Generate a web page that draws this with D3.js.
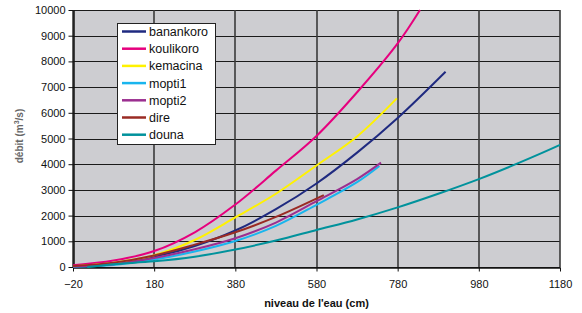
<!DOCTYPE html>
<html lang="fr">
<head>
<meta charset="UTF-8">
<title>débit / niveau</title>
<style>
    body { margin: 0; background: #fff; font-family: 'Liberation Sans', Arial, sans-serif; }
    svg { display: block; }
</style>
</head>
<body>
<svg width="582" height="313"></svg>
<script src="https://cdn.jsdelivr.net/npm/d3@7"></script>
<script>
// stations (legend order)
const stations = ['banankoro', 'koulikoro', 'kemacina', 'mopti1', 'mopti2', 'dire', 'douna'];
const colors = ['#1f2a80', '#e6007e', '#fff200', '#19b5ee', '#9b2f90', '#9a2b24', '#00929c'];

// niveau (cm) / débit (m3/s)
const banankoroX = [-20, 80, 180, 280, 380, 480, 580, 680, 780, 898];
const banankoroY = [20, 120, 400, 820, 1420, 2250, 3250, 4450, 5800, 7600];
const koulikoroX = [-20, 80, 180, 280, 380, 480, 580, 680, 780, 835];
const koulikoroY = [70, 250, 620, 1350, 2430, 3750, 5100, 6800, 8700, 10000];
const kemacinaX = [-20, 80, 180, 280, 380, 480, 580, 680, 778];
const kemacinaY = [30, 170, 460, 1050, 1930, 2850, 3950, 5080, 6560];
const mopti1X = [-20, 80, 180, 280, 380, 480, 580, 680, 735];
const mopti1Y = [10, 80, 290, 600, 1010, 1600, 2420, 3300, 3930];
const mopti2X = [-20, 80, 180, 280, 380, 480, 580, 680, 739];
const mopti2Y = [20, 110, 350, 690, 1120, 1730, 2560, 3420, 4060];
const direX = [-20, 80, 180, 280, 380, 480, 598];
const direY = [40, 170, 450, 870, 1350, 1950, 2800];
const dounaX = [15, 80, 180, 280, 380, 480, 580, 680, 780, 880, 980, 1080, 1180];
const dounaY = [0, 110, 220, 400, 680, 1030, 1440, 1850, 2320, 2850, 3420, 4060, 4750];

const xTicks = [-20, 180, 380, 580, 780, 980, 1180];
const yTicks = [0, 1000, 2000, 3000, 4000, 5000, 6000, 7000, 8000, 9000, 10000];

const seriesX = [banankoroX, koulikoroX, kemacinaX, mopti1X, mopti2X, direX, dounaX];
const seriesY = [banankoroY, koulikoroY, kemacinaY, mopti1Y, mopti2Y, direY, dounaY];

const margin = { left: 73, right: 22, top: 10, bottom: 46 };
const width = 582, height = 313;

const svg = d3.select('svg');

const x = d3.scaleLinear().domain([-20, 1180]).range([margin.left, width - margin.right]);
const y = d3.scaleLinear().domain([0, 10000]).range([height - margin.bottom, margin.top]);

// plot background
svg.append('rect')
    .attr('x', x(-20)).attr('y', y(10000))
    .attr('width', x(1180) - x(-20)).attr('height', y(0) - y(10000))
    .attr('fill', '#cdcdd1');

// gridlines
svg.append('g').selectAll('line').data(yTicks).join('line')
    .attr('x1', x(-20)).attr('x2', x(1180))
    .attr('y1', d => Math.round(y(d)) + 0.5).attr('y2', d => Math.round(y(d)) + 0.5)
    .attr('stroke', '#1a1a1a').attr('stroke-width', 1);
svg.append('g').selectAll('line').data(xTicks).join('line')
    .attr('x1', d => Math.round(x(d))).attr('x2', d => Math.round(x(d)))
    .attr('y1', y(10000)).attr('y2', y(0))
    .attr('stroke', '#3a3a3a').attr('stroke-width', 1.6);

// axes
const fmt = d3.format('d');
const xAxis = svg.append('g')
    .attr('transform', `translate(0,${Math.round(y(0)) + 0.5})`)
    .call(d3.axisBottom(x).tickValues(xTicks).tickFormat(fmt).tickSizeInner(4).tickSizeOuter(0).tickPadding(9));
const yAxis = svg.append('g')
    .attr('transform', `translate(${Math.round(x(-20)) + 0.5},0)`)
    .call(d3.axisLeft(y).tickValues(yTicks).tickFormat(fmt).tickSizeInner(5).tickSizeOuter(0).tickPadding(3));

[xAxis, yAxis].forEach(g => {
    g.select('.domain').attr('stroke', '#111').attr('stroke-width', 1.5);
    g.selectAll('.tick line').attr('stroke', '#111');
    g.selectAll('.tick text')
        .attr('font-family', "'Liberation Sans', Arial, sans-serif")
        .attr('font-size', 11).attr('fill', '#111');
});

// curves
const line = d3.line()
    .x(d => x(d[0]))
    .y(d => y(d[1]))
    .curve(d3.curveCatmullRom.alpha(0.5));

const plot = svg.append('g');
stations.forEach((name, i) => {
    const pts = seriesX[i].map((v, j) => [v, seriesY[i][j]]);
    plot.append('path')
        .datum(pts)
        .attr('d', line)
        .attr('fill', 'none')
        .attr('stroke', colors[i])
        .attr('stroke-width', 2);
});

// legend
const legend = svg.append('g').attr('transform', 'translate(117,23)');
legend.append('rect')
    .attr('x', 0.5).attr('y', 0.5)
    .attr('width', 98).attr('height', 121)
    .attr('fill', '#fff').attr('stroke', '#222');
const rows = legend.selectAll('g.row').data(stations).join('g')
    .attr('class', 'row')
    .attr('transform', (d, i) => `translate(0,${8.5 + i * 17.2})`);
rows.append('line')
    .attr('x1', 5).attr('x2', 29)
    .attr('stroke', (d, i) => colors[i]).attr('stroke-width', 2.5);
rows.append('text')
    .attr('x', 32).attr('y', 4.5)
    .attr('font-size', 12.5).attr('fill', '#111')
    .text(d => d);

// axis titles
svg.append('text')
    .attr('x', (x(-20) + x(1180)) / 2).attr('y', 307)
    .attr('text-anchor', 'middle')
    .attr('font-size', 11).attr('font-weight', 'bold').attr('fill', '#111')
    .text("niveau de l'eau (cm)");

const yt = svg.append('text')
    .attr('transform', 'translate(23,136) rotate(-90)')
    .attr('text-anchor', 'middle')
    .attr('font-size', 10).attr('font-weight', 'bold').attr('fill', '#666');
yt.append('tspan').text('débit (m');
yt.append('tspan').attr('font-size', 7).attr('dy', -4).text('3');
yt.append('tspan').attr('dy', 4).text('/s)');
</script>
</body>
</html>
